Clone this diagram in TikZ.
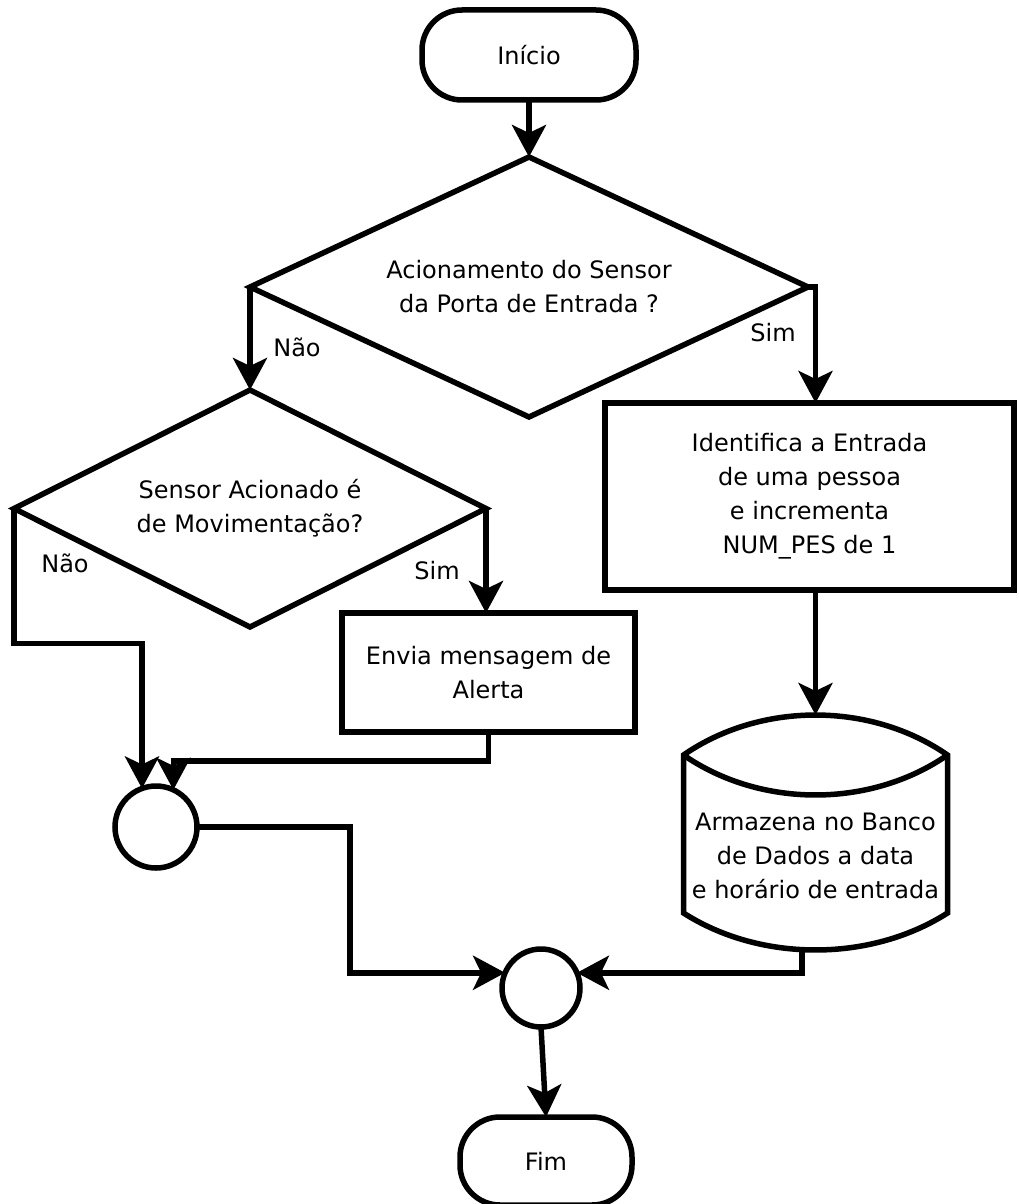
\documentclass[tikz,border=0pt]{standalone}
\usepackage{fontspec}
\setmainfont{DejaVu Sans}
\usetikzlibrary{shapes.geometric,arrows.meta,calc}

\begin{document}
\begin{tikzpicture}[x=1pt,y=-1pt,
  every node/.style={font=\fontsize{24}{34}\selectfont, align=center, inner sep=0pt, outer sep=0pt},
  line/.style={line width=5.5pt},
  flow/.style={line, -{Stealth[length=32pt,width=34pt,inset=8pt]}},
  terminal/.style={draw, line width=5.5pt, rectangle, rounded corners=40pt},
  process/.style={draw, line width=5.5pt, rectangle},
  decision/.style={draw, line width=5.5pt, diamond},
  junction/.style={draw, line width=5.5pt, circle},
  branch/.style={}
]
\fill[white] (0,0) rectangle (1019,1204);
\useasboundingbox (0,0) rectangle (1019,1204);

% terminals
\node[terminal, minimum width=214pt, minimum height=90pt] (ini) at (529,55) {Início};
\node[terminal, minimum width=172pt, minimum height=88pt] (fim) at (546,1161) {Fim};

% decisions
\node[decision, shape aspect=2.15, minimum width=558pt, minimum height=260pt] (d1) at (529,287)
  {Acionamento do Sensor\\da Porta de Entrada ?};
\node[decision, shape aspect=2, minimum width=472pt, minimum height=237pt] (d2) at (250,508.5)
  {Sensor Acionado é\\de Movimentação?};

% processes
\node[process, minimum width=409pt, minimum height=187pt] (id) at (809.5,496.5)
  {Identifica a Entrada\\de uma pessoa\\e incrementa\\NUM\_PES de 1};
\node[process, minimum width=293pt, minimum height=119pt] (env) at (488.5,672.5)
  {Envia mensagem de\\Alerta};

% data storage
\node[minimum width=264pt] (db) at (815.5,856)
  {Armazena no Banco\\de Dados a data\\e horário de entrada};
\begin{scope}[shift={(db.center)}]
  \draw[line, line join=miter]
    (-132,-101) .. controls (-55,-154.3) and (55,-154.3) .. (132,-101)
    -- (132,57) .. controls (55,106.3) and (-55,106.3) .. (-132,57) -- cycle;
  \draw[line] (-132,-101) .. controls (-55,-47.7) and (55,-47.7) .. (132,-101);
\end{scope}
\coordinate (dbtop) at ($(db.center)+(0,-141)$);
\coordinate (dbout) at ($(db.center)+(-13.5,93)$);

% junctions
\node[junction, minimum size=82pt] (c1) at (156,827) {};
\node[junction, minimum size=78pt] (c2) at (541,988) {};

% branch labels
\node[branch] (no1) at (297,347) {Não};
\node[branch] (yes1) at (773,333) {Sim};
\node[branch] (no2) at (65,563) {Não};
\node[branch] (yes2) at (437,571) {Sim};

% connectors
\draw[flow] (ini.south) -- (d1.north);
\draw[flow] (d1.west) -- (d2.north);
\draw[flow] (d1.east) -| (dbtop |- id.north);
\draw[flow] (id.south -| dbtop) -- (dbtop);
\draw[flow] (d2.east) -- (d2.east |- env.north);
\draw[flow] (d2.west) -- ++(0,135) -| (c1.110);
\draw[flow] (env.south) -- ++(0,29) -| (c1.65);
\draw[flow] (c1.east) -- ++(153,0) |- (c2.157);
\draw[flow] (dbout) |- (c2.23);
\draw[flow] (c2.south) -- (fim.north);
\end{tikzpicture}
\end{document}
